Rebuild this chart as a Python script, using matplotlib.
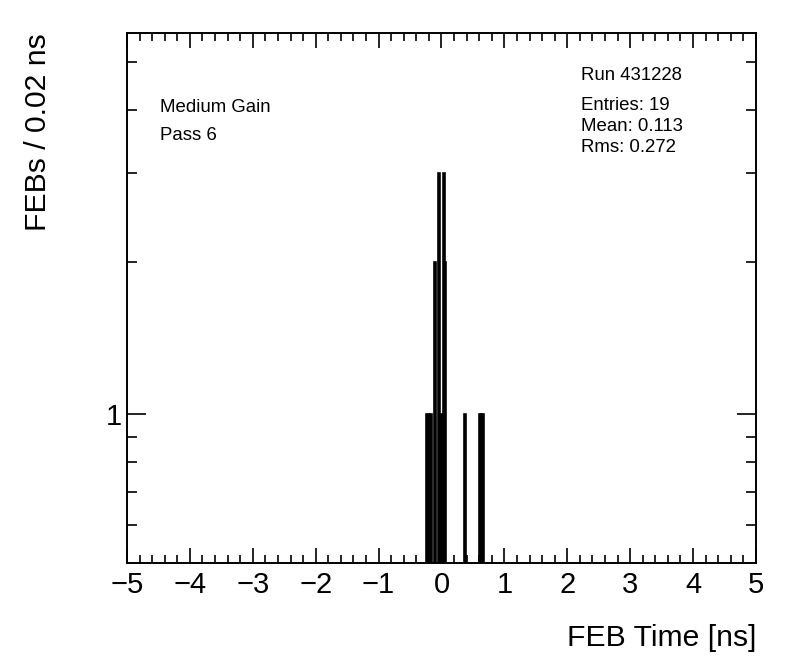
import numpy as np
import matplotlib
matplotlib.use("Agg")
import matplotlib.pyplot as plt
from matplotlib.ticker import MultipleLocator, FixedLocator, FixedFormatter, NullFormatter

plt.rcParams["font.family"] = ["Liberation Sans", "DejaVu Sans"]

# histogram content: low edge of filled bins (0.02 ns wide) and their counts
bin_low = [-0.24, -0.18, -0.12, -0.06, -0.02, 0.02, 0.04, 0.36, 0.60, 0.64]
counts = [1, 1, 2, 3, 1, 3, 2, 1, 1, 1]

x_min, x_max, bin_w = -5.0, 5.0, 0.02
y_min, y_max = 0.505, 5.7

run_text = "Run 431228"
stats_lines = ["Entries: 19", "Mean: 0.113", "Rms: 0.272"]
gain_lines = ["Medium Gain", "Pass 6"]

n_bins = int(round((x_max - x_min) / bin_w))
edges = np.linspace(x_min, x_max, n_bins + 1)
values = np.zeros(n_bins)
for lo, c in zip(bin_low, counts):
    values[int(round((lo - x_min) / bin_w))] = c

W, H = 796, 672
fig = plt.figure(figsize=(W / 100, H / 100), dpi=100)
ax = fig.add_axes([0.1595, 0.1622, 0.7902, 0.7887])

ax.set_yscale("log")
ax.stairs(values, edges, color="black", linewidth=1.9, baseline=None)
ax.set_xlim(x_min, x_max)
ax.set_ylim(y_min, y_max)

for s in ax.spines.values():
    s.set_linewidth(1.4)

ax.xaxis.set_major_locator(MultipleLocator(1))
ax.xaxis.set_minor_locator(MultipleLocator(0.2))
ax.yaxis.set_major_locator(FixedLocator([1]))
ax.yaxis.set_minor_locator(FixedLocator([0.6, 0.7, 0.8, 0.9, 2, 3, 4, 5]))
ax.yaxis.set_major_formatter(FixedFormatter(["1"]))
ax.yaxis.set_minor_formatter(NullFormatter())

ax.tick_params(axis="x", which="both", direction="in", top=True, bottom=True,
               labelsize=21, pad=6, width=1.2)
ax.tick_params(axis="x", which="major", length=11)
ax.tick_params(axis="x", which="minor", length=5.5)
ax.tick_params(axis="y", which="both", direction="in", left=True, right=True,
               labelsize=21, pad=4, width=1.2)
ax.tick_params(axis="y", which="major", length=14)
ax.tick_params(axis="y", which="minor", length=7)

ax.set_xlabel("FEB Time [ns]", fontsize=21.7, loc="right", labelpad=18)
fig.text(38 / W, 1 - 33 / H, "FEBs / 0.02 ns", fontsize=21.7, rotation=90,
         ha="center", va="top")

for i, t in enumerate(gain_lines):
    fig.text(160 / W, 1 - (107 + 28 * i) / H, t, fontsize=13.4, va="center", ha="left")

fig.text(581 / W, 1 - 75 / H, run_text, fontsize=13.4, va="center", ha="left")
for i, t in enumerate(stats_lines):
    fig.text(581 / W, 1 - (106 + 20.5 * i) / H, t, fontsize=13.4, va="center", ha="left")

fig.savefig("out.png", dpi=100)
